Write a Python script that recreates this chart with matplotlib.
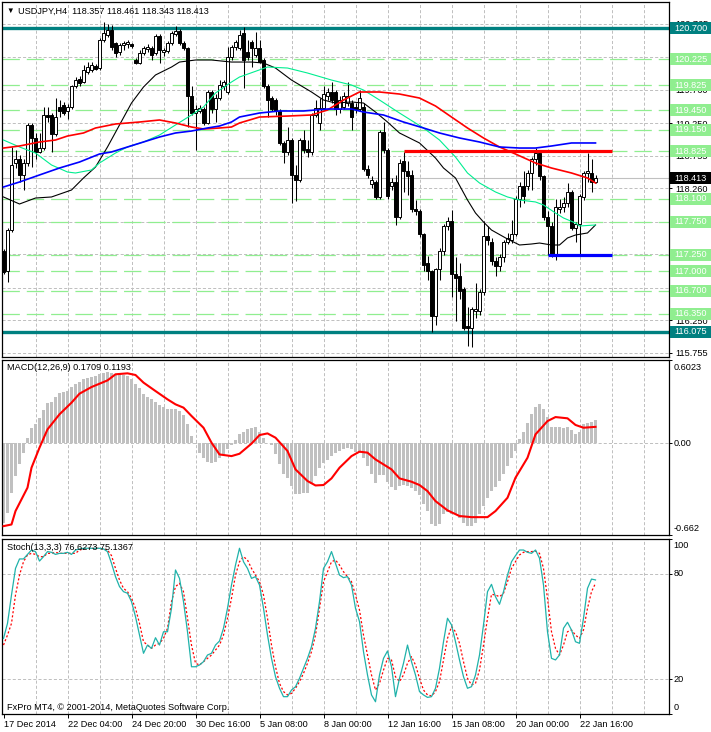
import matplotlib
matplotlib.use("Agg")
import matplotlib.pyplot as plt
from matplotlib.patches import Rectangle

plt.rcParams['font.family'] = ['Liberation Sans', 'DejaVu Sans']
plt.rcParams['lines.scale_dashes'] = False

W, H = 711, 732
FS = 6.6

# ---- USDJPY H4 candles, bar 0 = 17 Dec 2014 12:00 ----
opens = [
    117.30, 117.00, 117.63, 118.64, 118.71, 118.47, 118.65, 119.23, 119.03, 118.82,
    118.88, 119.38, 119.38, 119.08, 119.50, 119.53, 119.43, 119.50, 119.81, 119.93,
    119.88, 120.03, 120.06, 120.12, 120.09, 120.52, 120.60, 120.67, 120.47, 120.34,
    120.44, 120.46, 120.46, 120.21, 120.17, 120.32, 120.38, 120.40, 120.32, 120.58,
    120.34, 120.35, 120.47, 120.61, 120.66, 120.47, 120.40, 119.66, 119.41, 119.44,
    119.46, 119.26, 119.72, 119.46, 119.64, 119.81, 119.73, 120.26, 120.41, 120.40,
    120.63, 120.34, 120.49, 120.29, 120.40, 120.21, 119.82, 119.63, 119.61, 119.43,
    118.95, 118.82, 119.00, 118.47, 118.39, 119.00, 118.86, 118.82, 119.38, 119.25,
    119.49, 119.66, 119.73, 119.72, 119.46, 119.50, 119.56, 119.56, 119.50, 119.46,
    119.50, 118.56, 118.32, 118.36, 118.12, 119.12, 118.85, 118.29, 118.35, 117.83,
    118.67, 118.52, 118.46, 117.95, 117.92, 117.56, 117.12, 117.00, 116.31, 117.03,
    117.30, 117.68, 117.76, 116.95, 116.92, 116.72, 116.16, 116.14, 116.39, 116.39,
    116.68, 117.53, 117.45, 117.15, 117.07, 117.22, 117.45, 117.48, 117.56, 118.09,
    118.29, 118.29, 118.50, 118.70, 118.80, 118.44, 117.83, 117.68, 117.25, 117.95,
    117.97, 118.04, 118.20, 117.66, 117.71, 118.12, 118.49, 118.50, 118.357]
highs = [
    117.33, 117.66, 118.89, 118.85, 118.77, 118.70, 119.26, 119.26, 119.10, 119.10,
    119.50, 119.50, 119.41, 119.64, 119.61, 119.58, 119.55, 119.84, 119.96, 119.97,
    120.14, 120.18, 120.18, 120.15, 120.55, 120.79, 120.76, 120.75, 120.49, 120.47,
    120.50, 120.52, 120.47, 120.24, 120.37, 120.43, 120.46, 120.43, 120.61, 120.61,
    120.40, 120.50, 120.66, 120.73, 120.69, 120.50, 120.41, 119.82, 119.53, 119.53,
    119.50, 119.76, 119.76, 119.69, 119.91, 119.91, 120.41, 120.44, 120.52, 120.67,
    120.72, 120.52, 120.52, 120.64, 120.52, 120.24, 119.85, 119.66, 119.64, 119.46,
    118.98, 119.20, 119.03, 118.62, 119.03, 119.15, 119.00, 119.41, 119.61, 119.64,
    119.81, 119.79, 119.88, 119.76, 119.66, 119.73, 119.88, 119.61, 119.56, 119.76,
    119.56, 118.62, 118.44, 118.39, 119.15, 119.27, 118.88, 118.42, 118.47, 118.70,
    118.82, 118.67, 118.54, 118.08, 117.95, 117.58, 117.23, 117.02, 117.05, 117.35,
    117.71, 117.83, 117.93, 117.22, 117.12, 116.75, 116.46, 116.46, 116.82, 116.72,
    117.76, 117.68, 117.51, 117.21, 117.26, 117.48, 117.58, 117.78, 118.14, 118.35,
    118.52, 118.54, 118.74, 118.88, 118.85, 118.47, 117.91, 117.75, 118.09, 118.09,
    118.13, 118.34, 118.24, 117.75, 118.17, 118.52, 118.80, 118.71, 118.461]
lows = [
    116.95, 116.83, 117.60, 118.57, 118.35, 118.24, 118.60, 118.59, 118.70, 118.80,
    118.85, 119.27, 118.82, 119.05, 119.34, 119.38, 119.31, 119.47, 119.79, 119.82,
    119.87, 120.00, 120.03, 120.06, 120.06, 120.49, 120.56, 120.37, 120.26, 120.29,
    120.37, 120.40, 120.40, 120.15, 120.15, 120.29, 120.34, 120.21, 120.29, 120.17,
    120.27, 120.32, 120.44, 120.58, 120.44, 120.37, 119.20, 119.38, 118.85, 119.41,
    119.23, 119.24, 119.41, 119.27, 119.61, 119.76, 119.70, 120.21, 120.37, 120.37,
    119.79, 120.21, 120.11, 120.26, 120.17, 119.79, 119.35, 119.43, 119.38, 118.92,
    118.65, 118.77, 118.04, 118.07, 118.35, 118.80, 118.73, 118.77, 119.35, 119.15,
    119.46, 119.61, 119.56, 119.38, 119.41, 119.46, 119.52, 119.15, 119.41, 119.43,
    118.52, 118.42, 118.27, 118.09, 118.09, 118.80, 118.10, 118.24, 117.70, 117.79,
    118.21, 118.16, 117.90, 117.86, 117.52, 117.00, 116.86, 116.07, 116.18, 116.87,
    117.25, 117.63, 116.60, 116.24, 116.57, 116.11, 115.86, 115.84, 116.29, 116.33,
    116.64, 117.40, 117.10, 116.92, 117.00, 117.14, 117.41, 117.43, 117.53, 117.98,
    118.04, 118.24, 118.24, 118.62, 118.39, 117.78, 117.25, 117.21, 117.17, 117.88,
    117.90, 117.98, 117.63, 117.45, 117.25, 118.08, 118.36, 118.21, 118.343]
closes = [
    116.98, 117.63, 118.62, 118.71, 118.47, 118.65, 119.23, 119.03, 118.82, 118.88,
    119.37, 119.34, 119.08, 119.34, 119.43, 119.41, 119.50, 119.81, 119.91, 119.87,
    120.06, 120.11, 120.14, 120.08, 120.52, 120.63, 120.67, 120.41, 120.32, 120.44,
    120.47, 120.49, 120.43, 120.17, 120.32, 120.40, 120.41, 120.29, 120.58, 120.37,
    120.37, 120.47, 120.63, 120.66, 120.47, 120.40, 119.66, 119.41, 119.47, 119.49,
    119.26, 119.72, 119.46, 119.64, 119.84, 119.88, 120.26, 120.41, 120.49, 120.60,
    120.21, 120.26, 120.40, 120.40, 120.18, 119.81, 119.61, 119.46, 119.43, 118.95,
    118.82, 119.00, 118.47, 118.39, 119.00, 118.85, 118.82, 119.38, 119.49, 119.49,
    119.69, 119.73, 119.61, 119.46, 119.61, 119.66, 119.66, 119.34, 119.46, 119.64,
    118.55, 118.47, 118.38, 118.12, 119.12, 118.85, 118.14, 118.35, 117.83, 118.65,
    118.52, 118.44, 117.94, 117.91, 117.56, 117.10, 117.00, 116.31, 117.03, 117.30,
    117.68, 117.76, 116.95, 116.90, 116.69, 116.14, 116.14, 116.42, 116.42, 116.68,
    117.53, 117.48, 117.15, 117.07, 117.22, 117.45, 117.51, 117.56, 118.09, 118.29,
    118.14, 118.50, 118.70, 118.80, 118.44, 117.83, 117.68, 117.25, 117.98, 117.98,
    118.04, 118.20, 117.66, 117.71, 118.14, 118.49, 118.52, 118.36, 118.413]

# moving averages, read at sample bars
ma_black_bars = [0, 4, 8, 12, 17, 20, 23, 26, 29, 32, 35, 38, 42, 44, 48, 52, 57, 62, 65, 68,
                 72, 77, 80, 83, 87, 90, 93, 96, 99, 104, 108, 110, 113, 116, 118, 120, 122,
                 126, 129, 132, 134, 137, 139, 141, 143, 146, 148]
ma_black = [118.128, 118.021, 118.112, 118.128, 118.234, 118.417, 118.584, 118.889, 119.224,
            119.558, 119.802, 119.985, 120.106, 120.182, 120.213, 120.213, 120.182, 120.182,
            120.167, 120.091, 119.908, 119.726, 119.604, 119.558, 119.574, 119.558, 119.421,
            119.269, 119.102, 118.950, 118.721, 118.569, 118.417, 118.082, 117.884, 117.747,
            117.625, 117.488, 117.397, 117.412, 117.427, 117.397, 117.397, 117.504, 117.549,
            117.580, 117.702]
ma_green_bars = [0, 4, 8, 12, 16, 18, 22, 24, 28, 31, 35, 39, 43, 47, 50, 53, 57, 59, 66, 71,
                 76, 82, 87, 90, 94, 99, 105, 109, 113, 116, 119, 123, 126, 129, 133, 135, 138,
                 140, 143, 144, 148]
ma_green = [118.995, 118.889, 118.797, 118.615, 118.508, 118.493, 118.539, 118.645, 118.797,
            118.889, 118.965, 119.071, 119.224, 119.376, 119.498, 119.711, 119.878, 119.954,
            120.106, 120.091, 120.015, 119.908, 119.832, 119.756, 119.604, 119.406, 119.178,
            118.995, 118.736, 118.493, 118.341, 118.204, 118.128, 118.082, 118.052, 118.006,
            117.884, 117.808, 117.732, 117.686, 117.702]
ma_red_bars = [0, 4, 9, 13, 16, 20, 23, 28, 34, 39, 43, 47, 50, 54, 57, 59, 64, 71, 77, 81,
               85, 89, 94, 99, 104, 108, 112, 116, 120, 124, 128, 133, 137, 142, 146, 148]
ma_red = [118.873, 118.904, 118.965, 118.995, 119.056, 119.102, 119.178, 119.239, 119.269,
          119.300, 119.254, 119.193, 119.163, 119.178, 119.193, 119.254, 119.345, 119.360,
          119.376, 119.452, 119.604, 119.726, 119.726, 119.695, 119.634, 119.513, 119.345,
          119.178, 119.026, 118.889, 118.782, 118.645, 118.569, 118.493, 118.417, 118.341]
ma_blue_bars = [0, 4, 9, 14, 19, 24, 27, 31, 35, 39, 43, 47, 51, 54, 57, 59, 64, 69, 75, 81,
                87, 90, 95, 100, 105, 109, 114, 119, 124, 129, 133, 137, 142, 148]
ma_blue = [118.280, 118.356, 118.463, 118.569, 118.660, 118.782, 118.813, 118.889, 118.965,
           119.041, 119.102, 119.132, 119.178, 119.208, 119.269, 119.345, 119.406, 119.437,
           119.437, 119.467, 119.467, 119.421, 119.376, 119.269, 119.178, 119.102, 119.026,
           118.965, 118.889, 118.873, 118.873, 118.904, 118.950, 118.950]

# price levels
grid_prices = [115.755, 116.250, 116.745, 117.255, 117.750, 118.260, 118.755, 119.250,
               119.760, 120.265, 120.765]
green_levels = [120.225, 119.825, 119.450, 119.150, 118.825, 118.100, 117.750, 117.250,
                117.000, 116.700, 116.350]
teal_levels = [120.700, 116.075]
last_price = 118.413
res_bars, res_price = [100, 152], 118.825
sup_bars, sup_price = [136, 152], 117.250

# MACD(12,26,9)
macd_hist = [
    -0.573, -0.500, -0.357, -0.236, -0.152, -0.067, 0.041, 0.108, 0.142, 0.181,
    0.239, 0.289, 0.299, 0.335, 0.361, 0.371, 0.378, 0.407, 0.431, 0.446,
    0.463, 0.475, 0.480, 0.484, 0.499, 0.511, 0.518, 0.511, 0.504, 0.499,
    0.494, 0.487, 0.467, 0.431, 0.398, 0.359, 0.335, 0.318, 0.299, 0.277,
    0.263, 0.251, 0.251, 0.251, 0.234, 0.205, 0.137, 0.053, -0.002, -0.067,
    -0.108, -0.133, -0.142, -0.133, -0.108, -0.075, -0.043, -0.012, 0.022, 0.070,
    0.084, 0.101, 0.108, 0.118, 0.084, 0.036, 0.005, -0.012, -0.080, -0.152,
    -0.219, -0.248, -0.308, -0.364, -0.364, -0.357, -0.357, -0.296, -0.236, -0.181,
    -0.140, -0.123, -0.092, -0.067, -0.055, -0.043, -0.036, -0.043, -0.060, -0.067,
    -0.108, -0.164, -0.224, -0.284, -0.229, -0.229, -0.277, -0.316, -0.340, -0.308,
    -0.301, -0.308, -0.320, -0.345, -0.373, -0.441, -0.489, -0.581, -0.598, -0.586,
    -0.513, -0.494, -0.508, -0.513, -0.537, -0.573, -0.598, -0.598, -0.573, -0.513,
    -0.453, -0.393, -0.345, -0.316, -0.272, -0.224, -0.164, -0.104, -0.055, 0.029,
    0.084, 0.149, 0.214, 0.263, 0.282, 0.246, 0.190, 0.118, 0.118, 0.118,
    0.108, 0.118, 0.094, 0.065, 0.084, 0.137, 0.149, 0.157, 0.1709]
sig_bars = [0, 2, 3, 6, 7, 9, 11, 14, 17, 19, 22, 26, 28, 31, 33, 35, 38, 41, 43, 45,
            47, 50, 52, 54, 57, 59, 62, 64, 66, 68, 71, 73, 76, 78, 80, 82, 84, 87, 89, 91,
            93, 97, 99, 102, 104, 106, 108, 111, 114, 117, 121, 123, 126, 128, 131, 133, 136,
            138, 141, 143, 145, 148]
sig_vals = [-0.598, -0.586, -0.489, -0.320, -0.176, -0.031, 0.101, 0.210, 0.294, 0.359,
            0.407, 0.455, 0.499, 0.506, 0.494, 0.439, 0.378, 0.318, 0.282, 0.258,
            0.198, 0.113, 0.005, -0.080, -0.092, -0.075, -0.002, 0.060, 0.072, 0.041,
            -0.055, -0.188, -0.272, -0.304, -0.301, -0.253, -0.176, -0.092, -0.060, -0.067,
            -0.116, -0.188, -0.253, -0.277, -0.301, -0.345, -0.417, -0.484, -0.525, -0.533,
            -0.533, -0.489, -0.393, -0.248, -0.104, 0.065, 0.161, 0.190, 0.181, 0.133,
            0.113, 0.1193]

# Stochastic(13,3,3)
stoch_main = [
    43.2, 51.8, 68.0, 83.2, 88.6, 88.6, 91.2, 93.7, 92.8, 87.4,
    89.9, 92.8, 92.4, 91.2, 91.8, 91.8, 92.4, 91.2, 93.7, 94.3,
    94.7, 94.7, 94.7, 94.7, 94.7, 94.3, 92.8, 86.1, 78.5, 72.8,
    69.9, 69.0, 64.2, 55.6, 45.1, 34.7, 39.4, 37.5, 43.6, 39.4,
    47.0, 47.0, 60.4, 82.3, 77.5, 64.2, 47.0, 27.0, 27.0, 28.0,
    29.9, 33.7, 34.7, 39.4, 41.7, 49.0, 60.4, 73.7, 85.1, 94.7,
    87.0, 83.2, 77.5, 78.5, 73.7, 60.4, 45.1, 31.8, 21.3, 14.7,
    9.9, 9.9, 13.7, 15.6, 20.4, 26.1, 31.8, 38.5, 49.0, 64.2,
    83.2, 87.0, 92.8, 86.1, 79.4, 77.9, 78.5, 73.7, 60.4, 52.8,
    35.6, 22.3, 10.9, 7.0, 22.3, 31.8, 36.0, 27.0, 9.9, 20.4,
    29.0, 39.4, 29.9, 22.3, 12.8, 10.9, 9.5, 9.9, 14.7, 26.1,
    41.3, 54.7, 50.9, 41.3, 30.9, 21.3, 14.7, 15.6, 22.3, 33.7,
    50.9, 69.9, 74.1, 67.0, 62.7, 69.9, 79.4, 87.0, 90.5, 93.7,
    93.7, 92.4, 91.8, 93.7, 89.0, 73.7, 47.0, 31.8, 30.9, 33.7,
    49.0, 52.4, 48.0, 41.3, 40.4, 54.7, 71.8, 77.1, 76.6]
stoch_sig = [
    39.4, 45.1, 51.8, 68.0, 79.4, 87.0, 90.9, 91.8, 91.2, 89.9,
    89.9, 91.8, 91.8, 92.4, 91.8, 91.8, 91.8, 91.8, 91.8, 93.7,
    94.3, 94.7, 94.7, 94.7, 94.7, 94.3, 93.7, 90.5, 83.2, 76.6,
    71.8, 69.9, 66.1, 60.4, 51.8, 41.3, 39.4, 37.5, 39.4, 40.4,
    43.2, 49.0, 64.2, 72.8, 74.7, 69.9, 54.7, 39.4, 29.0, 28.0,
    29.9, 31.8, 33.7, 36.6, 39.4, 45.1, 54.7, 66.1, 79.4, 87.0,
    89.9, 88.0, 83.2, 79.4, 75.6, 68.0, 54.7, 39.4, 27.0, 17.5,
    12.8, 10.9, 11.8, 14.7, 18.5, 23.2, 29.0, 35.6, 45.1, 60.4,
    75.6, 81.3, 87.0, 88.0, 85.1, 81.3, 78.5, 75.6, 68.0, 59.4,
    45.1, 33.7, 22.3, 13.7, 17.5, 25.1, 31.8, 30.9, 21.3, 18.5,
    22.3, 29.0, 32.8, 28.0, 20.4, 13.7, 10.9, 10.3, 12.8, 18.5,
    30.9, 43.2, 49.9, 47.0, 40.4, 29.9, 20.4, 16.6, 17.5, 25.1,
    39.4, 54.7, 68.4, 68.0, 67.0, 69.0, 75.6, 83.2, 87.0, 90.9,
    92.4, 92.8, 92.8, 93.1, 91.8, 83.2, 66.1, 47.0, 37.5, 33.7,
    39.4, 47.0, 48.0, 45.1, 43.2, 48.0, 60.4, 69.9, 74.7]

label_bars = [0, 16, 32, 48, 64, 80, 96, 112, 128, 144]
date_labels = ['17 Dec 2014', '22 Dec 04:00', '24 Dec 20:00', '30 Dec 16:00', '5 Jan 08:00',
               '8 Jan 00:00', '12 Jan 16:00', '15 Jan 08:00', '20 Jan 00:00', '22 Jan 16:00']


def rect(x0, y0, x1, y1):
    # pixel box (top-left origin) -> figure fraction
    return [x0 / W, 1 - y1 / H, (x1 - x0) / W, (y1 - y0) / H]


fig = plt.figure(figsize=(W / 100, H / 100), dpi=100, facecolor='white')
ax = fig.add_axes(rect(2, 2, 669, 357))
ax_macd = fig.add_axes(rect(2, 360, 669, 535))
ax_sto = fig.add_axes(rect(2, 539, 669, 714))

bars = list(range(len(closes)))
GRID = dict(color='#c0c0c0', lw=0.72, ls=(0, (2.2, 1.5)), zorder=1)

for a in (ax, ax_macd, ax_sto):
    a.set_xlim(-0.375, 166.375)
    for s in a.spines.values():
        s.set_linewidth(0.9)
        s.set_color('black')
    for b in range(8, 168, 8):
        a.axvline(b, **GRID)
    a.yaxis.tick_right()
    a.tick_params(axis='y', direction='out', length=2.5, width=0.7, labelsize=FS, pad=2)
    a.tick_params(axis='x', bottom=False, labelbottom=False)

# ---- price panel ----
ymin, ymax = 115.692, 121.096
ax.set_ylim(ymin, ymax)
ax.set_yticks(grid_prices)
ax.set_yticklabels([f'{p:.3f}' for p in grid_prices])
for p in grid_prices:
    ax.axhline(p, **GRID)
for p in green_levels:
    ax.axhline(p, color='#90ee90', lw=0.9, ls=(0, (12.5, 5)), zorder=2)
for p in teal_levels:
    ax.axhline(p, color='#008080', lw=2.4, zorder=2)
ax.axhline(last_price, color='#c0c0c0', lw=0.8, zorder=2)

ax.vlines(bars, lows, highs, color='black', lw=0.75, zorder=3)
bodies = [max(abs(c - o), 0.004) for o, c in zip(opens, closes)]
bottoms = [min(o, c) for o, c in zip(opens, closes)]
fills = ['white' if c >= o else 'black' for o, c in zip(opens, closes)]
ax.bar(bars, bodies, bottom=bottoms, width=0.55, color=fills, edgecolor='black',
       linewidth=0.7, zorder=4)

ax.plot(ma_black_bars, ma_black, color='black', lw=0.8, zorder=5)
ax.plot(ma_green_bars, ma_green, color='#00ee90', lw=0.8, zorder=5)
ax.plot(ma_red_bars, ma_red, color='red', lw=1.2, zorder=5)
ax.plot(ma_blue_bars, ma_blue, color='blue', lw=1.2, zorder=5)

ax.plot(res_bars, [res_price] * 2, color='red', lw=2.3, solid_capstyle='butt', zorder=6)
ax.plot(sup_bars, [sup_price] * 2, color='blue', lw=2.3, solid_capstyle='butt', zorder=6)

# price tags on the right scale (box ~12 px tall, from the axis line to the edge)
ytr = ax.get_yaxis_transform()
half = 6 * (ymax - ymin) / 355
tags = [(p, '#90ee90') for p in green_levels] + [(p, '#008080') for p in teal_levels]
tags.append((last_price, 'black'))
for p, col in tags:
    ax.add_patch(Rectangle((1.0015, p - half), 0.08, 2 * half, transform=ytr, fc=col,
                           ec='none', clip_on=False, zorder=9))
    ax.text(1.0075, p, f'{p:.3f}', transform=ytr, color='white', fontsize=FS,
            va='center', ha='left', clip_on=False, zorder=10)

fig.text(6 / W, 1 - 11 / H, '\u25bc', fontsize=5.5, va='center', ha='left')
fig.text(18 / W, 1 - 11 / H, 'USDJPY,H4  118.357 118.461 118.343 118.413',
         fontsize=FS, va='center', ha='left')

# ---- MACD panel ----
ax_macd.set_ylim(-0.662, 0.6023)
ax_macd.axhline(0, **GRID)
ax_macd.bar(bars, macd_hist, width=0.72, color='#c0c0c0', zorder=2)
ax_macd.plot(sig_bars, sig_vals, color='red', lw=1.5, zorder=4)
ax_macd.set_yticks([-0.662, 0, 0.6023])
ax_macd.set_yticklabels([])
for fy, t in [(0.96, '0.6023'), (0.52, '0.00'), (0.035, '-0.662')]:
    ax_macd.text(1.007, fy, t, transform=ax_macd.transAxes, fontsize=FS, va='center',
                 ha='left', clip_on=False)
fig.text(7 / W, 1 - 368 / H, f'MACD(12,26,9) {macd_hist[-1]:.4f} {sig_vals[-1]:.4f}',
         fontsize=FS, va='center', ha='left')

# ---- Stochastic panel ----
ax_sto.set_ylim(0, 100)
ax_sto.axhline(80, **GRID)
ax_sto.axhline(20, **GRID)
ax_sto.plot(bars, stoch_sig, color='red', lw=0.9, ls=(0, (1.5, 1.5)), zorder=3)
ax_sto.plot(bars, stoch_main, color='#20b2aa', lw=0.9, zorder=4)
ax_sto.set_yticks([0, 20, 80, 100])
ax_sto.set_yticklabels([])
for fy, t in [(0.96, '100'), (0.8, '80'), (0.2, '20'), (0.04, '0')]:
    ax_sto.text(1.007, fy, t, transform=ax_sto.transAxes, fontsize=FS, va='center',
                ha='left', clip_on=False)
ax_sto.set_xticks(label_bars)
ax_sto.set_xticklabels(date_labels, ha='left')
ax_sto.tick_params(axis='x', bottom=True, labelbottom=True, direction='out', length=3,
                   width=0.7, labelsize=FS, pad=1.5)
fig.text(7 / W, 1 - 548 / H, 'Stoch(13,3,3) 76.6273 75.1367', fontsize=FS,
         va='center', ha='left')
fig.text(7 / W, 1 - 707 / H, 'FxPro MT4, \u00a9 2001-2014, MetaQuotes Software Corp.',
         fontsize=FS, va='center', ha='left')

fig.savefig('out.png', dpi=100, facecolor='white')
